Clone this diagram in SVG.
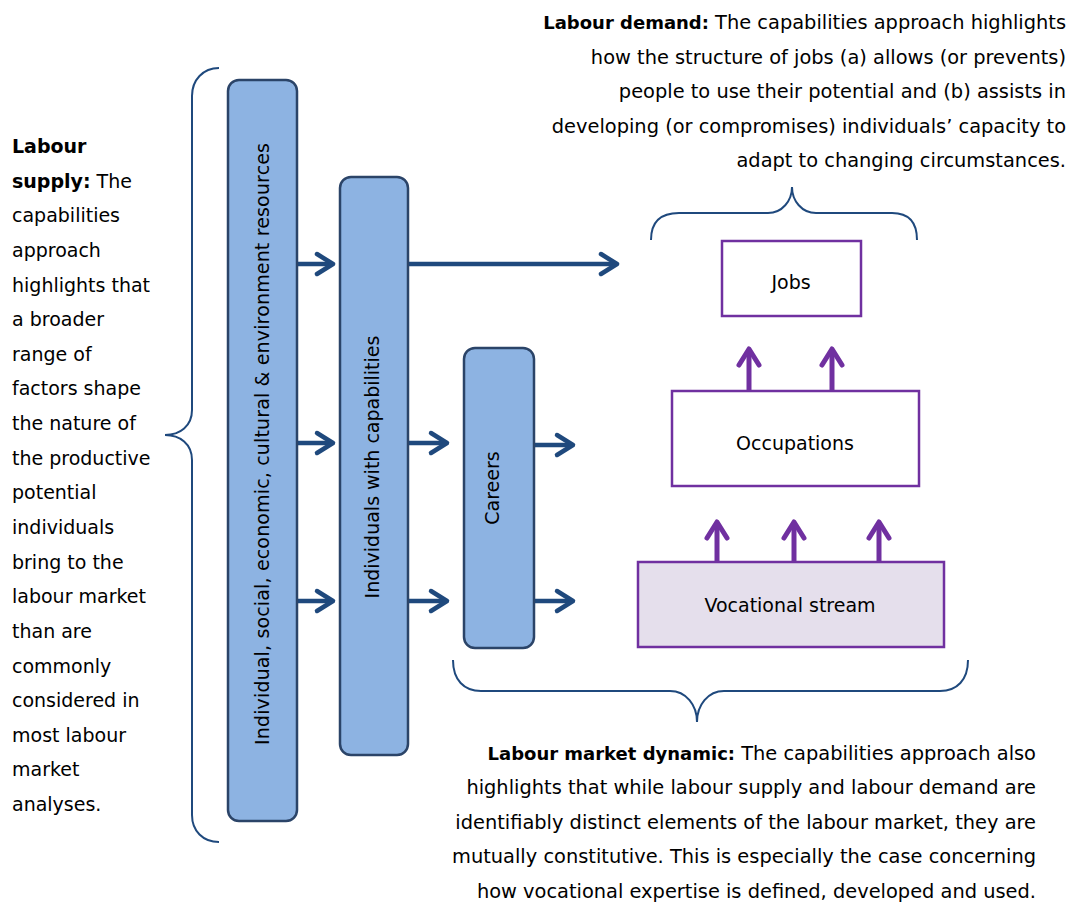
<svg xmlns="http://www.w3.org/2000/svg" width="1074" height="905" viewBox="0 0 1074 905">
<style>
  text { font-family: "DejaVu Sans", "Liberation Sans", sans-serif; font-size: 19px; fill: #000; }
  .t { font-size: 19.4px; }
  .b { font-weight: bold; }
  .bs { font-weight: bold; font-size: 18px; }
  .blue { fill: #8DB3E2; stroke: #2B4468; stroke-width: 2.5; }
  .pbox { fill: #FFFFFF; stroke: #7030A0; stroke-width: 2.5; }
  .pfill { fill: #E5DFEC; stroke: #7030A0; stroke-width: 2.5; }
  .brace { fill: none; stroke: #1F497D; stroke-width: 2; }
  .na { fill: none; stroke: #1F497D; stroke-width: 4.5; marker-end: url(#ahn); }
  .pa { fill: none; stroke: #7030A0; stroke-width: 5; marker-end: url(#ahp); }
</style>
<defs>
  <marker id="ahn" markerUnits="userSpaceOnUse" viewBox="-20 -15 30 30" markerWidth="30" markerHeight="30" refX="0" refY="0" orient="auto" overflow="visible">
    <path d="M-14,-10 L2,0 L-14,10" fill="none" stroke="#1F497D" stroke-width="4.5" stroke-linecap="round" stroke-linejoin="round"/>
  </marker>
  <marker id="ahp" markerUnits="userSpaceOnUse" viewBox="-20 -15 30 30" markerWidth="30" markerHeight="30" refX="0" refY="0" orient="auto" overflow="visible">
    <path d="M-14,-10 L2,0 L-14,10" fill="none" stroke="#7030A0" stroke-width="5" stroke-linecap="round" stroke-linejoin="round"/>
  </marker>
</defs>

<g id="connectors">
  <path class="na" d="M297,264 H331"/>
  <path class="na" d="M408,264 H615"/>
  <path class="na" d="M297,443 H331"/>
  <path class="na" d="M408,443 H445"/>
  <path class="na" d="M534,445 H571"/>
  <path class="na" d="M297,601 H331"/>
  <path class="na" d="M408,601 H445"/>
  <path class="na" d="M534,601 H571"/>
  <path class="pa" d="M749,390 V351"/>
  <path class="pa" d="M832,390 V351"/>
  <path class="pa" d="M717,562 V524"/>
  <path class="pa" d="M794,562 V524"/>
  <path class="pa" d="M879,562 V524"/>
</g>

<g id="brace-left">
  <path class="brace" d="M219,68 C203,68 192,80 192,96 L192,410 C192,426 180,435 165,435 C180,435 192,444 192,460 L192,815 C192,831 203,842 219,842"/>
</g>
<g id="brace-top">
  <path class="brace" d="M651,240 C651,222 661,213 679,213 L768,213 C782,213 792,201 792,187 C792,201 802,213 816,213 L892,213 C908,213 917,222 917,240"/>
</g>
<g id="brace-bottom">
  <path class="brace" d="M453,660 C453,680 464,691 481,691 L670,691 C686,691 697,705 697,722 C697,705 708,691 724,691 L940,691 C957,691 968,680 968,660"/>
</g>

<g id="resources">
  <rect class="blue" x="228" y="80" width="69" height="741" rx="11"/>
  <text transform="translate(269,444) rotate(-90)" text-anchor="middle" textLength="602" lengthAdjust="spacing">Individual, social, economic, cultural &amp; environment resources</text>
</g>
<g id="individuals">
  <rect class="blue" x="340" y="177" width="68" height="578" rx="11"/>
  <text transform="translate(379,467) rotate(-90)" text-anchor="middle">Individuals with capabilities</text>
</g>
<g id="careers">
  <rect class="blue" x="464" y="348" width="70" height="300" rx="11"/>
  <text transform="translate(499,488) rotate(-90)" text-anchor="middle">Careers</text>
</g>
<g id="jobs">
  <rect class="pbox" x="722" y="241" width="139" height="75"/>
  <text x="791" y="289" text-anchor="middle">Jobs</text>
</g>
<g id="occupations">
  <rect class="pbox" x="672" y="391" width="247" height="95"/>
  <text x="795" y="450" text-anchor="middle">Occupations</text>
</g>
<g id="vocational">
  <rect class="pfill" x="638" y="562" width="306" height="85"/>
  <text x="790" y="612" text-anchor="middle">Vocational stream</text>
</g>

<g id="labour-supply">
  <text x="12" y="153"><tspan class="b">Labour</tspan></text>
  <text x="12" y="188"><tspan class="b">supply:</tspan> The</text>
  <text x="12" y="222">capabilities</text>
  <text x="12" y="257">approach</text>
  <text x="12" y="292">highlights that</text>
  <text x="12" y="326">a broader</text>
  <text x="12" y="361">range of</text>
  <text x="12" y="395">factors shape</text>
  <text x="12" y="430">the nature of</text>
  <text x="12" y="465">the productive</text>
  <text x="12" y="499">potential</text>
  <text x="12" y="534">individuals</text>
  <text x="12" y="569">bring to the</text>
  <text x="12" y="603">labour market</text>
  <text x="12" y="638">than are</text>
  <text x="12" y="673">commonly</text>
  <text x="12" y="707">considered in</text>
  <text x="12" y="742">most labour</text>
  <text x="12" y="776">market</text>
  <text x="12" y="811">analyses.</text>
</g>

<g id="labour-demand" text-anchor="end">
  <text class="t" x="1066" y="29"><tspan class="bs">Labour demand:</tspan> The capabilities approach highlights</text>
  <text class="t" x="1066" y="64">how the structure of jobs (a) allows (or prevents)</text>
  <text class="t" x="1066" y="98">people to use their potential and (b) assists in</text>
  <text class="t" x="1066" y="133">developing (or compromises) individuals’ capacity to</text>
  <text class="t" x="1066" y="167">adapt to changing circumstances.</text>
</g>

<g id="labour-market-dynamic" text-anchor="end">
  <text class="t" x="1036" y="760"><tspan class="bs">Labour market dynamic:</tspan> The capabilities approach also</text>
  <text class="t" x="1036" y="794">highlights that while labour supply and labour demand are</text>
  <text class="t" x="1036" y="829">identifiably distinct elements of the labour market, they are</text>
  <text class="t" x="1036" y="863">mutually constitutive. This is especially the case concerning</text>
  <text class="t" x="1036" y="898">how vocational expertise is defined, developed and used.</text>
</g>
</svg>
